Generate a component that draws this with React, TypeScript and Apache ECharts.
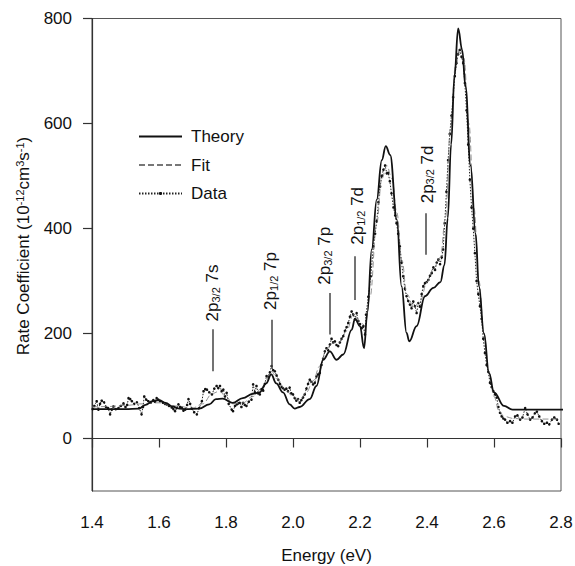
import React, { useEffect, useRef } from 'react';
import * as echarts from 'echarts';

const FONT = '"Liberation Sans", Arial, Helvetica, sans-serif';

const yTickValues = [0, 200, 400, 600, 800];
const yTitle = 'Rate Coefficient (10{sup|-12}cm{sup|3}s{sup|-1})';

const theory: [number, number][] = [
  [1.40, 56], [1.45, 56], [1.50, 56], [1.54, 57], [1.56, 64], [1.58, 71], [1.60, 73], [1.62, 68],
  [1.64, 61], [1.66, 57], [1.68, 56], [1.72, 57], [1.75, 65], [1.77, 75], [1.79, 76], [1.82, 68],
  [1.85, 77], [1.88, 85], [1.90, 88], [1.92, 105], [1.935, 122], [1.95, 105], [1.97, 88], [1.99, 65],
  [2.005, 57], [2.02, 60], [2.05, 75], [2.07, 100], [2.09, 150], [2.11, 166], [2.13, 150], [2.15, 160],
  [2.175, 207], [2.185, 228], [2.20, 214], [2.212, 172], [2.222, 240], [2.235, 360], [2.25, 455],
  [2.265, 530], [2.277, 557], [2.29, 540], [2.31, 417], [2.324, 290], [2.339, 201], [2.347, 185],
  [2.369, 214], [2.394, 271], [2.419, 287], [2.44, 298], [2.452, 330], [2.462, 420], [2.472, 560],
  [2.482, 690], [2.493, 781], [2.505, 740], [2.515, 670], [2.53, 520], [2.545, 390], [2.555, 290],
  [2.57, 200], [2.585, 125], [2.60, 88], [2.63, 62], [2.655, 55], [2.825, 55],
];

const fit: [number, number][] = [
  [1.40, 60], [1.45, 61], [1.50, 63], [1.55, 66], [1.60, 68], [1.65, 62], [1.70, 58], [1.73, 66],
  [1.76, 86], [1.78, 90], [1.80, 80], [1.82, 66], [1.85, 68], [1.88, 80], [1.91, 98], [1.935, 128],
  [1.955, 112], [1.975, 95], [2.0, 80], [2.02, 74], [2.04, 88], [2.06, 110], [2.08, 138], [2.10, 170],
  [2.12, 182], [2.14, 184], [2.16, 205], [2.18, 236], [2.20, 222], [2.215, 215], [2.23, 270],
  [2.25, 410], [2.265, 495], [2.28, 520], [2.295, 495], [2.31, 430], [2.325, 340], [2.34, 275],
  [2.36, 250], [2.38, 262], [2.40, 298], [2.42, 325], [2.44, 345], [2.455, 420], [2.47, 590],
  [2.485, 710], [2.498, 745], [2.51, 725], [2.525, 600], [2.54, 440], [2.555, 300], [2.57, 200],
  [2.585, 125], [2.60, 80], [2.615, 52], [2.63, 42], [2.66, 38], [2.70, 37], [2.80, 37],
];

const measured: [number, number][] = [
  [1.402, 56], [1.407, 62], [1.414, 71], [1.419, 55], [1.424, 66], [1.429, 72], [1.436, 69], [1.442, 60],
  [1.448, 58], [1.454, 46], [1.459, 55], [1.464, 61], [1.471, 56], [1.479, 58], [1.486, 62], [1.494, 67],
  [1.500, 60], [1.505, 64], [1.509, 77], [1.514, 75], [1.519, 71], [1.526, 66], [1.534, 69], [1.541, 58],
  [1.548, 46], [1.552, 60], [1.556, 80], [1.562, 74], [1.568, 71], [1.575, 68], [1.583, 73], [1.588, 70],
  [1.593, 77], [1.598, 74], [1.603, 71], [1.612, 68], [1.618, 66], [1.623, 65], [1.630, 62], [1.638, 59],
  [1.643, 56], [1.648, 52], [1.653, 58], [1.658, 65], [1.663, 60], [1.668, 59], [1.673, 53], [1.678, 55],
  [1.684, 64], [1.688, 75], [1.693, 66], [1.698, 57], [1.705, 50], [1.713, 46], [1.720, 58], [1.728, 71],
  [1.733, 90], [1.738, 94], [1.743, 93], [1.750, 88], [1.758, 84], [1.765, 95], [1.772, 100], [1.777, 96],
  [1.782, 100], [1.787, 90], [1.792, 93], [1.797, 80], [1.802, 87], [1.808, 66], [1.817, 55], [1.821, 52],
  [1.827, 62], [1.832, 65], [1.837, 67], [1.841, 68], [1.846, 60], [1.851, 68], [1.856, 64], [1.861, 62],
  [1.868, 70], [1.876, 74], [1.881, 103], [1.886, 88], [1.891, 100], [1.896, 86], [1.901, 84], [1.906, 94],
  [1.911, 91], [1.916, 104], [1.921, 119], [1.926, 118], [1.931, 126], [1.936, 138], [1.941, 130],
  [1.946, 128], [1.951, 120], [1.956, 112], [1.961, 104], [1.966, 98], [1.970, 96], [1.975, 93],
  [1.980, 95], [1.985, 90], [1.990, 97], [1.995, 86], [2.000, 84], [2.005, 77], [2.010, 72], [2.015, 75],
  [2.020, 68], [2.025, 73], [2.030, 78], [2.035, 84], [2.040, 95], [2.045, 104], [2.050, 112], [2.055, 108],
  [2.060, 103], [2.065, 106], [2.070, 118], [2.075, 122], [2.080, 125], [2.085, 140], [2.090, 152],
  [2.095, 166], [2.100, 172], [2.105, 168], [2.110, 179], [2.115, 190], [2.120, 183], [2.125, 185],
  [2.130, 178], [2.135, 176], [2.140, 183], [2.145, 190], [2.150, 195], [2.155, 205], [2.160, 212],
  [2.165, 220], [2.170, 232], [2.175, 242], [2.180, 236], [2.185, 227], [2.190, 239], [2.195, 224],
  [2.200, 218], [2.205, 210], [2.210, 214], [2.215, 198], [2.218, 236], [2.225, 270], [2.232, 309],
  [2.240, 366], [2.245, 390], [2.250, 414], [2.255, 450], [2.260, 480], [2.265, 500], [2.270, 512],
  [2.275, 520], [2.280, 505], [2.284, 506], [2.289, 490], [2.294, 467], [2.300, 440], [2.305, 425],
  [2.309, 410], [2.314, 390], [2.319, 366], [2.324, 335], [2.329, 309], [2.334, 285], [2.339, 271],
  [2.344, 262], [2.349, 255], [2.354, 248], [2.359, 261], [2.364, 252], [2.369, 239], [2.374, 258],
  [2.379, 251], [2.384, 275], [2.389, 290], [2.394, 296], [2.399, 298], [2.404, 302], [2.409, 310],
  [2.414, 315], [2.419, 326], [2.424, 321], [2.429, 335], [2.434, 341], [2.439, 332], [2.444, 345],
  [2.448, 360], [2.453, 410], [2.458, 470], [2.463, 530], [2.468, 580], [2.473, 615], [2.478, 650],
  [2.483, 690], [2.488, 715], [2.493, 732], [2.498, 740], [2.503, 727], [2.508, 715], [2.513, 677],
  [2.518, 625], [2.523, 560], [2.528, 493], [2.533, 440], [2.538, 400], [2.543, 353], [2.548, 300],
  [2.553, 275], [2.558, 252], [2.563, 228], [2.568, 190], [2.573, 163], [2.578, 140], [2.583, 127],
  [2.588, 106], [2.593, 98], [2.598, 90], [2.603, 84], [2.608, 78], [2.613, 60], [2.618, 49], [2.623, 42],
  [2.628, 38], [2.633, 36], [2.640, 30], [2.648, 33], [2.655, 30], [2.663, 42], [2.670, 44], [2.678, 36],
  [2.685, 40], [2.693, 58], [2.700, 46], [2.708, 36], [2.715, 40], [2.722, 48], [2.728, 51], [2.735, 42],
  [2.743, 33], [2.750, 28], [2.758, 30], [2.765, 27], [2.773, 36], [2.780, 40], [2.788, 36], [2.793, 28],
];

const annotationLabels = ['2p{s|3/2} 7s', '2p{s|1/2} 7p', '2p{s|3/2} 7p', '2p{s|1/2} 7d', '2p{s|3/2} 7d'];
const annotationTextX = [1.760, 1.933, 2.095, 2.194, 2.400];
const annotationTextY = [223, 245, 293, 369, 448];
const annotationLineX = [1.761, 1.936, 2.1105, 2.1845, 2.3967];
const annotationLineFrom = [128, 133, 198, 264, 350];
const annotationLineTo = [208, 226, 277, 347, 429];

export default function App() {
  const ref = useRef<HTMLDivElement>(null);
  useEffect(() => {
    const chart = echarts.init(ref.current as HTMLDivElement, null, { renderer: 'svg' });
    const option: any = {
      animation: false,
      backgroundColor: '#fff',
      textStyle: { fontFamily: FONT },
      grid: {
        left: 92, top: 18.5, right: 14, bottom: 75, outerBoundsMode: 'none', containLabel: false,
        show: true, borderColor: '#555', borderWidth: 1, backgroundColor: 'transparent',
      },
      legend: {
        left: 138, top: 128, orient: 'vertical', padding: 0,
        itemWidth: 43, itemHeight: 4, itemGap: 11.5,
        textStyle: { fontFamily: FONT, fontSize: 17, color: '#111', padding: [0, 0, 0, 4] },
        data: [
          { name: 'Theory', itemStyle: { opacity: 0 } },
          { name: 'Fit', itemStyle: { opacity: 0 } },
          { name: 'Data' },
        ],
      },
      xAxis: {
        type: 'value', min: 1.4, max: 2.8, interval: 0.2,
        name: 'Energy (eV)', nameLocation: 'middle', nameGap: 56,
        nameTextStyle: { fontFamily: FONT, fontSize: 17, color: '#111' },
        axisLine: { lineStyle: { color: '#333', width: 1.2 } },
        axisTick: { inside: false, length: 9, lineStyle: { color: '#333', width: 1.2 } },
        axisLabel: { margin: 23, fontFamily: FONT, fontSize: 17, color: '#111', formatter: (v: number) => v.toFixed(1) },
        splitLine: { show: false },
      },
      yAxis: {
        type: 'value', min: -100, max: 800,
        axisLine: { show: true, lineStyle: { color: '#333', width: 1.2 } },
        axisTick: { show: true, inside: false, length: 9, customValues: yTickValues, lineStyle: { color: '#333', width: 1.2 } },
        axisLabel: { margin: 20, fontFamily: FONT, fontSize: 17, color: '#111', customValues: yTickValues },
        splitLine: { show: false },
      },
      series: [
        {
          name: 'Theory', type: 'line', data: theory, symbol: 'none', smooth: 0.4, smoothMonotone: 'x',
          clip: false, z: 4,
          lineStyle: { color: '#111', width: 1.8 }, itemStyle: { color: '#111' },
          markLine: {
            silent: true, symbol: ['none', 'none'], label: { show: false },
            lineStyle: { color: '#444', width: 1.5, type: 'solid' },
            data: annotationLineX.map((x, i) => [
              { coord: [x, annotationLineFrom[i]] },
              { coord: [x, annotationLineTo[i]] },
            ]),
          },
        },
        {
          name: 'Fit', type: 'line', data: fit, symbol: 'none', smooth: 0.4, smoothMonotone: 'x', z: 3,
          lineStyle: { color: '#777', width: 0.8, type: [6, 3] }, itemStyle: { color: '#777' },
        },
        {
          name: 'Data', type: 'line', data: measured, symbol: 'circle', symbolSize: 2.6, z: 2,
          lineStyle: { color: '#222', width: 1, type: [1.5, 1.5] }, itemStyle: { color: '#111' },
        },
      ],
    };
    chart.setOption(option);
    const graphics: any[] = annotationLabels.map((label, i) => {
      const p = chart.convertToPixel({ gridIndex: 0 }, [annotationTextX[i], annotationTextY[i]]) as number[];
      return {
        type: 'text', x: p[0], y: p[1], rotation: Math.PI / 2, z: 10,
        style: {
          text: label, fontFamily: FONT, fontSize: 17, fill: '#111', align: 'left', verticalAlign: 'middle',
          rich: { s: { fontFamily: FONT, fontSize: 11, fill: '#111', verticalAlign: 'bottom' } },
        },
      };
    });
    graphics.push({
      type: 'text', x: 23, y: 246, rotation: Math.PI / 2, z: 10,
      style: {
        text: yTitle, fontFamily: FONT, fontSize: 17, fill: '#111', align: 'center', verticalAlign: 'middle',
        rich: { sup: { fontFamily: FONT, fontSize: 11, fill: '#111', verticalAlign: 'top' } },
      },
    });
    chart.setOption({ graphic: graphics });
    return () => chart.dispose();
  }, []);
  return (
    <div
      ref={ref}
      style={{ position: 'fixed', left: 0, top: 0, width: 575, height: 566, background: '#fff' }}
    />
  );
}
